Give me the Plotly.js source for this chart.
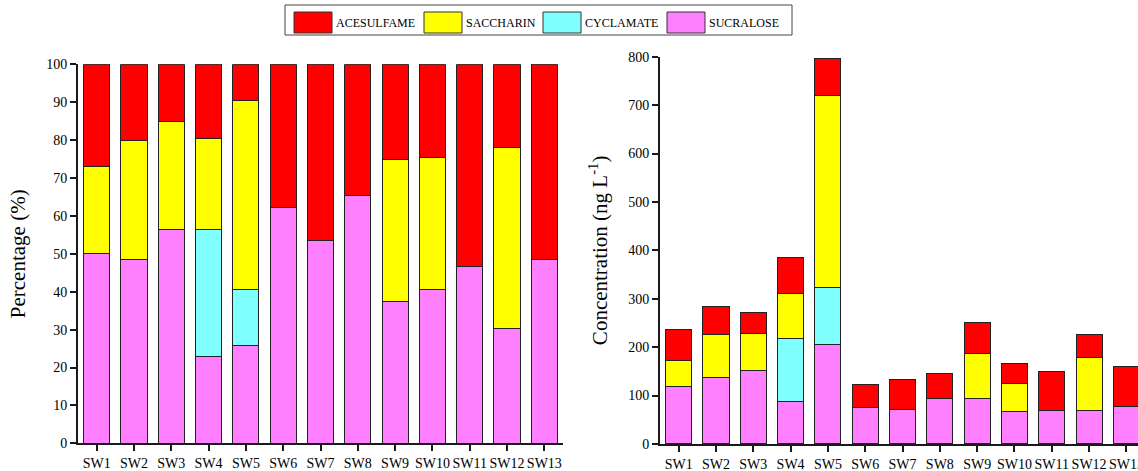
<!DOCTYPE html>
<html>
<head>
<meta charset="utf-8">
<script src="https://cdn.plot.ly/plotly-3.0.1.min.js"></script>
<style>html,body{margin:0;padding:0;background:#fff;}#chart{width:1138px;height:471px;}</style>
</head>
<body>
<div id="chart"></div>
<script>
// ---- data ----
const sites = ["SW1","SW2","SW3","SW4","SW5","SW6","SW7","SW8","SW9","SW10","SW11","SW12","SW13"];
const seriesNames = ["SUCRALOSE","CYCLAMATE","SACCHARIN","ACESULFAME"];
const legendOrder = ["ACESULFAME","SACCHARIN","CYCLAMATE","SUCRALOSE"];
const seriesColors = {ACESULFAME:"#ff0000", SACCHARIN:"#ffff00", CYCLAMATE:"#80ffff", SUCRALOSE:"#ff80ff"};

// Percentage (%) segments
const pctSucralose  = [50.0, 48.4, 56.5, 23.0, 25.9, 62.2, 53.5, 65.5, 37.5, 40.6, 46.6, 30.2, 48.6];
const pctCyclamate  = [null, null, null, 33.5, 14.7, null, null, null, null, null, null, null, null];
const pctSaccharin  = [23.1, 31.6, 28.4, 24.0, 49.8, null, null, null, 37.3, 34.8, null, 47.9, null];
const pctAcesulfame = [26.9, 20.0, 15.1, 19.5,  9.6, 37.8, 46.5, 34.5, 25.2, 24.6, 53.4, 21.9, 51.4];

// Concentration (ng L-1) segments
const concSucralose  = [118.6, 138.0, 152.5,  88.3, 205.6, 74.5, 70.4, 93.8, 93.8, 67.7, 69.0, 68.3, 77.3];
const concCyclamate  = [null,  null,  null,  128.7, 118.0, null, null, null, null, null, null, null, null];
const concSaccharin  = [ 54.4,  89.0,  76.5,  93.0, 396.4, null, null, null, 92.2, 58.0, null, 109.7, null];
const concAcesulfame = [ 64.5,  58.0,  42.0,  75.0,  77.0, 47.5, 62.0, 51.2, 64.5, 41.3, 81.5, 49.0, 82.1];

const pctData = {SUCRALOSE:pctSucralose, CYCLAMATE:pctCyclamate, SACCHARIN:pctSaccharin, ACESULFAME:pctAcesulfame};
const concData = {SUCRALOSE:concSucralose, CYCLAMATE:concCyclamate, SACCHARIN:concSaccharin, ACESULFAME:concAcesulfame};

const W = 1138, H = 471;
const FONT = "Liberation Serif";

const traces = [];
seriesNames.forEach(n => {
  traces.push({type:"bar", x:sites, y:pctData[n], name:n, xaxis:"x", yaxis:"y", width:0.7,
    marker:{color:seriesColors[n], line:{color:"#222", width:1}}, showlegend:false, hoverinfo:"x+y+name"});
});
seriesNames.forEach(n => {
  traces.push({type:"bar", x:sites, y:concData[n], name:n, xaxis:"x2", yaxis:"y2", width:0.7,
    marker:{color:seriesColors[n], line:{color:"#222", width:1}}, showlegend:false, hoverinfo:"x+y+name"});
});

const px = v => v / W;
const py = v => 1 - v / H;

const axisCommon = {
  showline:true, linewidth:2, linecolor:"#1a1a1a", ticks:"outside", ticklen:6, tickwidth:2,
  tickcolor:"#1a1a1a", showgrid:false, zeroline:false, tickfont:{family:FONT, size:14, color:"#000"},
  fixedrange:true
};

// legend built from series names/colors
const legX = [294, 424, 543, 667];
const shapes = [{type:"rect", xref:"paper", yref:"paper", x0:px(285), x1:px(792), y0:py(35), y1:py(5),
  line:{color:"#444", width:1}, fillcolor:"rgba(0,0,0,0)"}];
const annotations = [];
legendOrder.forEach((n, i) => {
  shapes.push({type:"rect", xref:"paper", yref:"paper", x0:px(legX[i]), x1:px(legX[i] + 38),
    y0:py(33), y1:py(12), fillcolor:seriesColors[n], line:{color:"#333", width:1}});
  annotations.push({xref:"paper", yref:"paper", x:px(legX[i] + 40), y:py(23), xanchor:"left", yanchor:"middle",
    text:n, showarrow:false, font:{family:FONT, size:12, color:"#000"}});
});

const layout = {
  width:W, height:H, margin:{l:0, r:0, t:0, b:0}, paper_bgcolor:"#fff", plot_bgcolor:"#fff",
  barmode:"stack", showlegend:false, font:{family:FONT, color:"#000"},
  xaxis:Object.assign({}, axisCommon, {domain:[px(78), px(563)], range:[-0.5, 12.5], anchor:"y"}),
  yaxis:Object.assign({}, axisCommon, {domain:[py(443.3), py(64.3)], range:[0, 100], dtick:10, anchor:"x",
    title:{text:"Percentage (%)", font:{family:FONT, size:21, color:"#000"}}}),
  xaxis2:Object.assign({}, axisCommon, {domain:[px(660), 1], range:[-0.5, 12.31], anchor:"y2"}),
  yaxis2:Object.assign({}, axisCommon, {domain:[py(444), py(56.7)], range:[0, 800], dtick:100, anchor:"x2",
    title:{text:"Concentration (ng L<sup>-1</sup>)", font:{family:FONT, size:21, color:"#000"}}}),
  shapes:shapes, annotations:annotations
};

Plotly.newPlot("chart", traces, layout, {displayModeBar:false, staticPlot:true});
</script>
</body>
</html>
